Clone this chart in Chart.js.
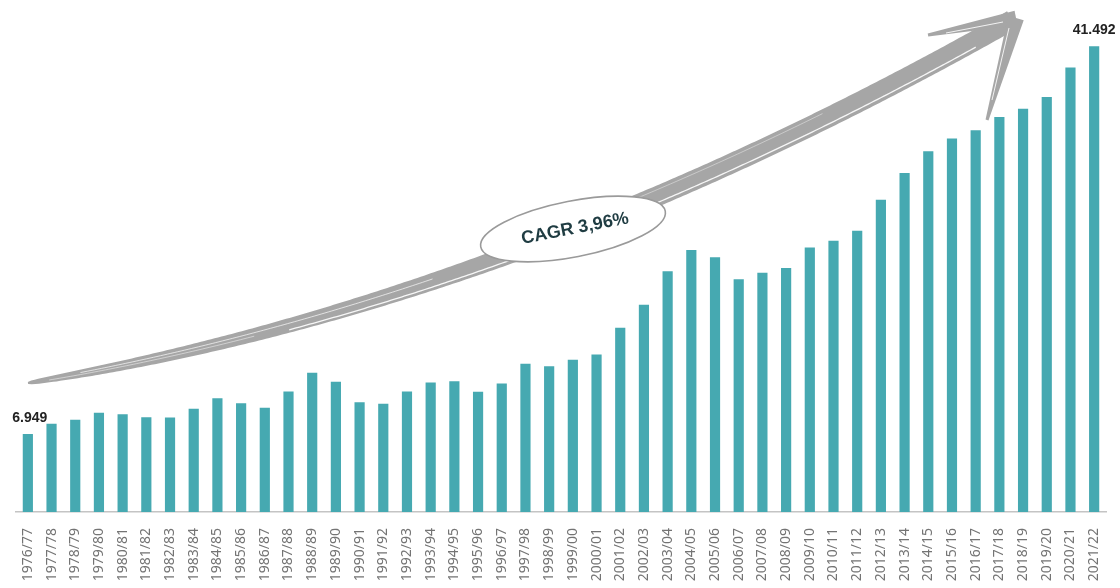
<!DOCTYPE html>
<html>
<head>
<meta charset="utf-8">
<script src="https://cdn.jsdelivr.net/npm/chart.js@4/dist/chart.umd.min.js"></script>
<style>
html,body{margin:0;padding:0;background:#fff;}
#wrap{width:1120px;height:588px;position:relative;}
</style>
</head>
<body>
<div id="wrap"><canvas id="c"></canvas></div>
<script>
const categories = ['1976/77','1977/78','1978/79','1979/80','1980/81','1981/82','1982/83','1983/84','1984/85','1985/86','1986/87','1987/88','1988/89','1989/90','1990/91','1991/92','1992/93','1993/94','1994/95','1995/96','1996/97','1997/98','1998/99','1999/00','2000/01','2001/02','2002/03','2003/04','2004/05','2005/06','2006/07','2007/08','2008/09','2009/10','2010/11','2011/12','2012/13','2013/14','2014/15','2015/16','2016/17','2017/18','2018/19','2019/20','2020/21','2021/22'];
const values = [6.949,7.86,8.21,8.84,8.71,8.44,8.42,9.19,10.14,9.69,9.28,10.73,12.40,11.60,9.78,9.64,10.73,11.53,11.65,10.71,11.45,13.20,12.99,13.56,14.03,16.41,18.46,21.45,23.34,22.70,20.74,21.31,21.75,23.56,24.16,25.07,27.83,30.21,32.14,33.29,34.01,35.20,35.94,36.98,39.62,41.492];
const labelledBars = [0, 45];
const valueLabels = ['6.949', '41.492'];
const cagrText = 'CAGR 3,96%';

const decor = {
  id: 'decor',
  afterDatasetsDraw(chart) {
    const ctx = chart.ctx;
    // decorative sketched arrow (cubic Bezier)
    const P0 = [28,383], C1 = [380,325], C2 = [712,190], P3 = [1012,20];
    const N = 300, samp = [];
    for (let i = 0; i <= N; i++) {
      const t = i/N, u = 1-t;
      samp.push([
        u*u*u*P0[0] + 3*u*u*t*C1[0] + 3*u*t*t*C2[0] + t*t*t*P3[0],
        u*u*u*P0[1] + 3*u*u*t*C1[1] + 3*u*t*t*C2[1] + t*t*t*P3[1]
      ]);
    }
    const cum = [0];
    for (let i = 1; i < samp.length; i++) cum.push(cum[i-1] + Math.hypot(samp[i][0]-samp[i-1][0], samp[i][1]-samp[i-1][1]));
    const L = cum[cum.length-1];
    const left = [], right = [], norms = [];
    for (let i = 0; i < samp.length; i++) {
      const a = samp[Math.max(0,i-1)], b = samp[Math.min(samp.length-1,i+1)];
      let dx = b[0]-a[0], dy = b[1]-a[1]; const d = Math.hypot(dx,dy) || 1; dx/=d; dy/=d;
      const nx = -dy, ny = dx;
      const r = cum[i]/L;
      const w = 2 + 18*Math.pow(Math.min(1, r/0.6), 0.45);
      norms.push([nx,ny,w]);
      left.push([samp[i][0]+nx*w/2, samp[i][1]+ny*w/2]);
      right.push([samp[i][0]-nx*w/2, samp[i][1]-ny*w/2]);
    }
    ctx.save();
    ctx.fillStyle = '#a6a6a6';
    ctx.beginPath();
    left.forEach((p,i) => i ? ctx.lineTo(p[0],p[1]) : ctx.moveTo(p[0],p[1]));
    for (let i = right.length-1; i >= 0; i--) ctx.lineTo(right[i][0], right[i][1]);
    ctx.closePath(); ctx.fill();
    const sketch = (off, from, to, col, lw) => {
      ctx.strokeStyle = col; ctx.lineWidth = lw; ctx.beginPath();
      let started = false;
      for (let i = 0; i < samp.length; i++) {
        const r = cum[i]/L; if (r < from || r > to) continue;
        const [nx,ny,w] = norms[i];
        const x = samp[i][0]+nx*w*off, y = samp[i][1]+ny*w*off;
        if (!started) { ctx.moveTo(x,y); started = true; } else ctx.lineTo(x,y);
      }
      ctx.stroke();
    };
    sketch(0.3, 0.25, 0.96, 'rgba(255,255,255,0.9)', 1.3);
    sketch(-0.15, 0.05, 0.4, 'rgba(255,255,255,0.75)', 0.9);
    sketch(0.1, 0.02, 0.22, 'rgba(255,255,255,0.6)', 0.8);
    sketch(-0.3, 0.55, 0.8, 'rgba(255,255,255,0.5)', 0.8);
    // arrow head barbs
    const barb = (tx,ty,ex,ey,w0,w1) => {
      let dx = ex-tx, dy = ey-ty; const d = Math.hypot(dx,dy); dx/=d; dy/=d;
      const nx = -dy, ny = dx;
      ctx.beginPath();
      ctx.moveTo(tx+nx*w0/2, ty+ny*w0/2);
      ctx.lineTo(ex+nx*w1/2, ey+ny*w1/2);
      ctx.lineTo(ex-nx*w1/2, ey-ny*w1/2);
      ctx.lineTo(tx-nx*w0/2, ty-ny*w0/2);
      ctx.closePath(); ctx.fill();
    };
    ctx.fillStyle = '#a6a6a6';
    barb(1016,18,928,35,15,3);
    barb(1016,18,987,120,16,3);
    ctx.strokeStyle = 'rgba(255,255,255,0.85)'; ctx.lineWidth = 1;
    ctx.beginPath(); ctx.moveTo(1009,28); ctx.lineTo(992,100); ctx.stroke();
    ctx.beginPath(); ctx.moveTo(1003,22); ctx.lineTo(946,33); ctx.stroke();
    // ellipse with CAGR label
    ctx.translate(573, 229);
    ctx.rotate(-11*Math.PI/180);
    ctx.beginPath();
    ctx.ellipse(0, 0, 94, 28, 0, 0, Math.PI*2);
    ctx.fillStyle = '#ffffff'; ctx.fill();
    ctx.strokeStyle = '#9a9a9a'; ctx.lineWidth = 1.6; ctx.stroke();
    ctx.fillStyle = '#1f3c42';
    ctx.font = 'bold 18px "Liberation Sans", Arial, sans-serif';
    ctx.textAlign = 'center'; ctx.textBaseline = 'middle';
    ctx.fillText(cagrText, 2, 0);
    ctx.restore();
    // value labels
    const meta = chart.getDatasetMeta(0);
    ctx.save();
    ctx.fillStyle = '#222';
    ctx.font = 'bold 14px "Liberation Sans", Arial, sans-serif';
    ctx.textAlign = 'center'; ctx.textBaseline = 'middle';
    labelledBars.forEach((idx, j) => {
      const el = meta.data[idx];
      ctx.fillText(valueLabels[j], el.x + (j === 0 ? 2 : 0), el.y - 16);
    });
    ctx.restore();
  }
};

new Chart(document.getElementById('c'), {
  type: 'bar',
  data: {
    labels: categories,
    datasets: [{
      data: values,
      backgroundColor: '#46a9b1',
      borderWidth: 0,
      barPercentage: 0.43,
      categoryPercentage: 1.0
    }]
  },
  options: {
    responsive: true,
    maintainAspectRatio: false,
    animation: false,
    devicePixelRatio: 1,
    layout: { padding: { left: 16, right: 14, top: 7, bottom: 0 } },
    plugins: { legend: { display: false }, tooltip: { enabled: false } },
    scales: {
      x: {
        grid: { display: false },
        border: { display: true, color: '#c4c4c4', width: 1.5 },
        ticks: {
          autoSkip: false, minRotation: 90, maxRotation: 90, padding: 8,
          color: '#747474',
          font: { size: 14, family: '"Noto Sans", "Open Sans", sans-serif' }
        },
        afterFit(s) { s.height = 76; }
      },
      y: { display: false, min: 0, max: 45 }
    }
  },
  plugins: [decor]
});
</script>
</body>
</html>
